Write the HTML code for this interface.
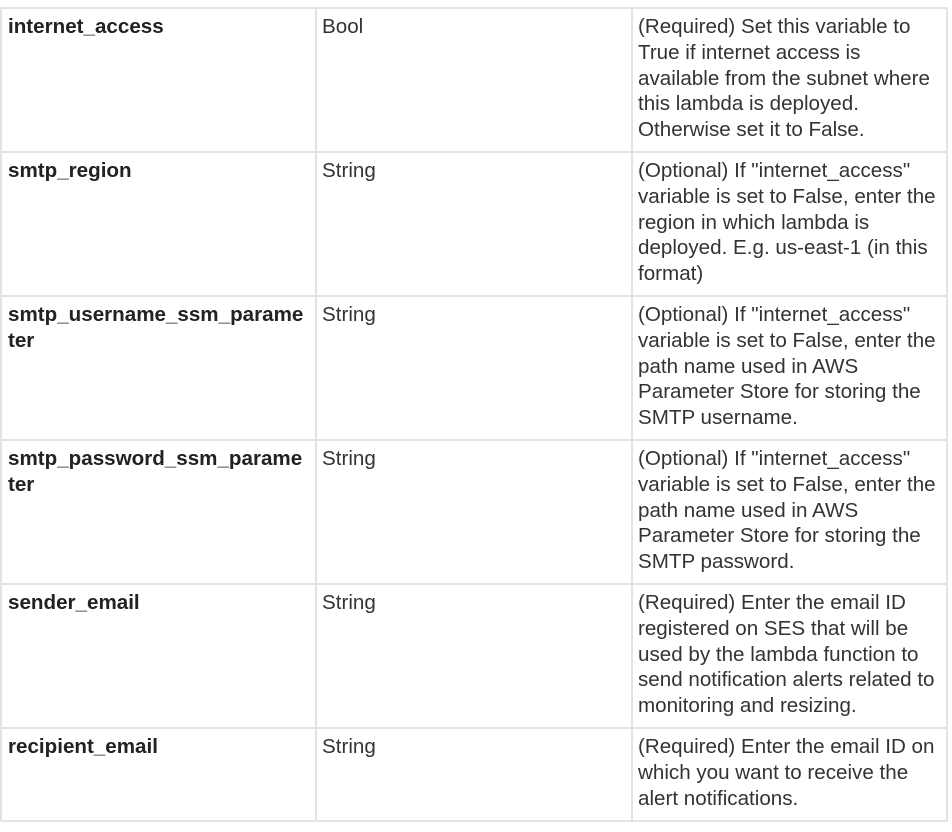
<!DOCTYPE html>
<html><head><meta charset="utf-8"><style>
html,body{margin:0;padding:0;background:#fff;width:952px;height:832px;overflow:hidden}
body{position:relative;font-family:"Liberation Sans",Arial,sans-serif;font-size:20.6px;color:#333;}
.h{position:absolute;left:0;width:948px;height:2px;background:#e3e3e3}
.v{position:absolute;top:7px;height:815px;width:2px;background:#e3e3e3}
.t{position:absolute;line-height:25.8px;white-space:nowrap}
.b{font-weight:bold;color:#222}
</style></head><body>
<div class="h" style="top:7px"></div>
<div class="h" style="top:151px"></div>
<div class="h" style="top:295px"></div>
<div class="h" style="top:439px"></div>
<div class="h" style="top:583px"></div>
<div class="h" style="top:727px"></div>
<div class="h" style="top:820px"></div>
<div class="v" style="left:0"></div>
<div class="v" style="left:315px"></div>
<div class="v" style="left:631px"></div>
<div class="v" style="left:946px"></div>

<div class="t b" style="left:8px;top:14px">internet_access</div>
<div class="t" style="left:322px;top:14px">Bool</div>
<div class="t" style="left:638px;top:14px">(Required) Set this variable to<br>True if internet access is<br>available from the subnet where<br>this lambda is deployed.<br>Otherwise set it to False.</div>

<div class="t b" style="left:8px;top:158px">smtp_region</div>
<div class="t" style="left:322px;top:158px">String</div>
<div class="t" style="left:638px;top:158px">(Optional) If "internet_access"<br>variable is set to False, enter the<br>region in which lambda is<br>deployed. E.g. us-east-1 (in this<br>format)</div>

<div class="t b" style="left:8px;top:302px">smtp_username_ssm_parame<br>ter</div>
<div class="t" style="left:322px;top:302px">String</div>
<div class="t" style="left:638px;top:302px">(Optional) If "internet_access"<br>variable is set to False, enter the<br>path name used in AWS<br>Parameter Store for storing the<br>SMTP username.</div>

<div class="t b" style="left:8px;top:446px">smtp_password_ssm_parame<br>ter</div>
<div class="t" style="left:322px;top:446px">String</div>
<div class="t" style="left:638px;top:446px">(Optional) If "internet_access"<br>variable is set to False, enter the<br>path name used in AWS<br>Parameter Store for storing the<br>SMTP password.</div>

<div class="t b" style="left:8px;top:590px">sender_email</div>
<div class="t" style="left:322px;top:590px">String</div>
<div class="t" style="left:638px;top:590px">(Required) Enter the email ID<br>registered on SES that will be<br>used by the lambda function to<br>send notification alerts related to<br>monitoring and resizing.</div>

<div class="t b" style="left:8px;top:734px">recipient_email</div>
<div class="t" style="left:322px;top:734px">String</div>
<div class="t" style="left:638px;top:734px">(Required) Enter the email ID on<br>which you want to receive the<br>alert notifications.</div>
</body></html>
